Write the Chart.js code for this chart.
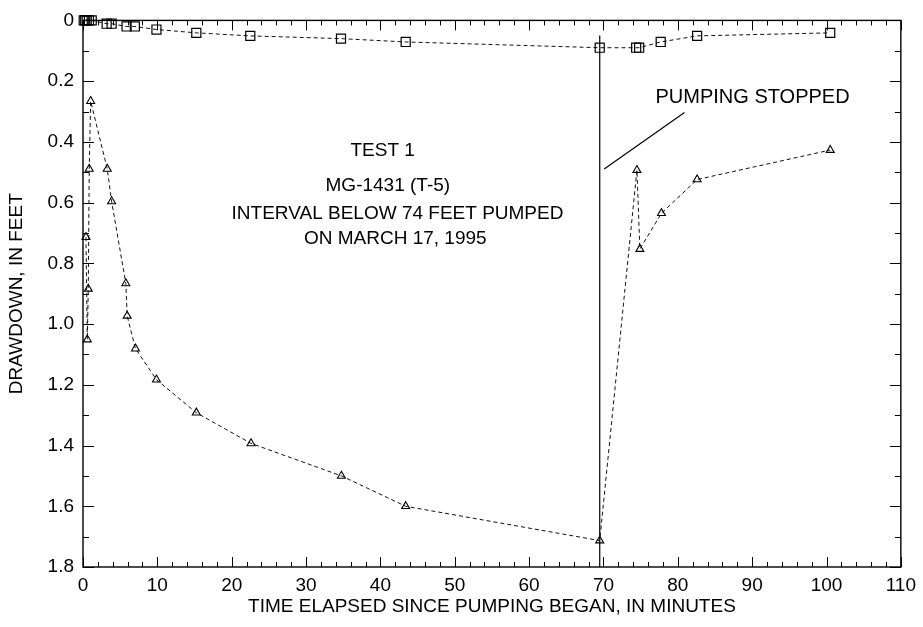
<!DOCTYPE html>
<html>
<head>
<meta charset="utf-8">
<script src="https://cdn.jsdelivr.net/npm/chart.js@4.4.1/dist/chart.umd.min.js"></script>
<style>
  html, body { margin: 0; padding: 0; background: #fff; }
  #wrap { width: 923px; height: 627px; }
</style>
</head>
<body>
<div id="wrap"><canvas id="drawdown"></canvas></div>
<script>
// pumped interval, triangles (minutes, feet)
var pumpedTime = [0.4, 0.58, 0.71, 0.84, 1.03, 3.26, 3.85, 5.76, 5.94, 7.06, 9.88, 15.24, 22.6, 34.76, 43.4, 69.5, 74.5, 74.9, 77.8, 82.6, 100.5];
var pumpedDrawdown = [0.714, 1.051, 0.884, 0.489, 0.266, 0.489, 0.596, 0.866, 0.973, 1.081, 1.183, 1.292, 1.393, 1.500, 1.600, 1.713, 0.493, 0.753, 0.635, 0.524, 0.427];

// other interval, squares
var otherTime = [0.1, 0.3, 0.5, 0.8, 1.17, 3.18, 3.85, 5.86, 6.97, 9.88, 15.24, 22.5, 34.7, 43.4, 69.5, 74.4, 74.8, 77.7, 82.6, 100.5];
var otherDrawdown = [0, 0, 0, 0, 0, 0.011, 0.011, 0.02, 0.02, 0.03, 0.041, 0.051, 0.060, 0.071, 0.090, 0.090, 0.090, 0.071, 0.051, 0.041];

// pumping stopped marker and pointer
var stopTime = [69.5, 69.5];
var stopDrawdown = [0.05, 1.8];
var pointerTime = [70.1, 80.9];
var pointerDrawdown = [0.489, 0.303];

var yTickLabels = ['0', '0.2', '0.4', '0.6', '0.8', '1.0', '1.2', '1.4', '1.6', '1.8'];

var notes = [
  { text: 'TEST 1', x: 40.3, y: 0.448, align: 'center' },
  { text: 'MG-1431 (T-5)', x: 41.0, y: 0.562, align: 'center' },
  { text: 'INTERVAL BELOW 74 FEET PUMPED', x: 42.3, y: 0.655, align: 'center' },
  { text: 'ON MARCH 17, 1995', x: 42.0, y: 0.737, align: 'center' },
  { text: 'PUMPING STOPPED', x: 77.0, y: 0.273, align: 'left', size: 20 }
];

function pairs(xs, ys) {
  return xs.map(function(x, i) { return { x: x, y: ys[i] }; });
}

var FONT = '"Liberation Sans", Arial, sans-serif';

// box round the plot with inward ticks on all four sides
var frameTicks = {
  id: 'frameTicks',
  beforeDatasetsDraw: function(chart) {
    var ctx = chart.ctx, a = chart.chartArea;
    var xs = chart.scales.x, ys = chart.scales.y;
    ctx.save();
    ctx.strokeStyle = '#000';
    ctx.lineWidth = 1;
    ctx.beginPath();
    for (var v = 0; v <= 110; v += 2) {
      var px = Math.round(xs.getPixelForValue(v)) + 0.5;
      var len = v % 10 === 0 ? 10 : 5;
      ctx.moveTo(px, a.bottom); ctx.lineTo(px, a.bottom - len);
      ctx.moveTo(px, a.top); ctx.lineTo(px, a.top + len);
    }
    for (var i = 0; i <= 18; i++) {
      var py = Math.round(ys.getPixelForValue(i / 10)) + 0.5;
      var l2 = i % 2 === 0 ? 11 : 6;
      ctx.moveTo(a.left, py); ctx.lineTo(a.left + l2, py);
      ctx.moveTo(a.right, py); ctx.lineTo(a.right - l2, py);
    }
    ctx.stroke();
    ctx.lineWidth = 1.4;
    ctx.strokeRect(a.left, a.top, a.right - a.left, a.bottom - a.top);
    ctx.restore();
  },
  afterDatasetsDraw: function(chart) {
    var ctx = chart.ctx;
    var xs = chart.scales.x, ys = chart.scales.y;
    ctx.save();
    ctx.fillStyle = '#000';
    ctx.textBaseline = 'alphabetic';
    notes.forEach(function(n) {
      ctx.font = (n.size || 19) + 'px ' + FONT;
      ctx.textAlign = n.align;
      ctx.fillText(n.text, xs.getPixelForValue(n.x), ys.getPixelForValue(n.y));
    });
    ctx.restore();
  }
};

var markLine = {
  showLine: true,
  borderColor: '#000',
  borderWidth: 1.2,
  pointRadius: 0,
  clip: false
};

new Chart(document.getElementById('drawdown'), {
  type: 'scatter',
  data: {
    datasets: [
      {
        label: 'Pumped interval',
        data: pairs(pumpedTime, pumpedDrawdown),
        showLine: true,
        borderColor: '#111',
        borderWidth: 1,
        borderDash: [4, 3],
        pointStyle: 'triangle',
        pointRadius: 4.6,
        pointBorderWidth: 1.1,
        pointBorderColor: '#000',
        pointBackgroundColor: 'rgba(255,255,255,0)',
        clip: false
      },
      {
        label: 'Other interval',
        data: pairs(otherTime, otherDrawdown),
        showLine: true,
        borderColor: '#111',
        borderWidth: 1,
        borderDash: [4, 3],
        pointStyle: 'rect',
        pointRadius: 6.4,
        pointBorderWidth: 1.2,
        pointBorderColor: '#000',
        pointBackgroundColor: 'rgba(255,255,255,0)',
        clip: false
      },
      Object.assign({ label: 'Pumping stopped', data: pairs(stopTime, stopDrawdown) }, markLine),
      Object.assign({ label: 'Pointer', data: pairs(pointerTime, pointerDrawdown) }, markLine)
    ]
  },
  options: {
    responsive: true,
    maintainAspectRatio: false,
    animation: false,
    layout: { padding: { top: 16.5, right: 19, left: 0, bottom: 0 } },
    plugins: {
      legend: { display: false },
      tooltip: { enabled: false }
    },
    scales: {
      x: {
        type: 'linear',
        min: 0,
        max: 110,
        ticks: {
          stepSize: 10,
          color: '#000',
          padding: 7,
          maxRotation: 0,
          font: { family: FONT, size: 19 }
        },
        grid: { display: false, drawTicks: false },
        border: { display: false },
        title: {
          display: true,
          text: 'TIME ELAPSED SINCE PUMPING BEGAN, IN MINUTES',
          color: '#000',
          font: { family: FONT, size: 19 },
          padding: { top: 0, bottom: 9 }
        },
        afterFit: function(scale) { scale.height = 60; }
      },
      y: {
        type: 'linear',
        reverse: true,
        min: 0,
        max: 1.8,
        ticks: {
          stepSize: 0.2,
          color: '#000',
          padding: 9,
          font: { family: FONT, size: 19 },
          callback: function(v) { return yTickLabels[Math.round(v / 0.2)]; }
        },
        grid: { display: false, drawTicks: false },
        border: { display: false },
        title: {
          display: true,
          text: 'DRAWDOWN, IN FEET',
          color: '#000',
          font: { family: FONT, size: 19 },
          padding: { top: 5, bottom: 0 }
        },
        afterFit: function(scale) { scale.width = 83; }
      }
    }
  },
  plugins: [frameTicks]
});
</script>
</body>
</html>
